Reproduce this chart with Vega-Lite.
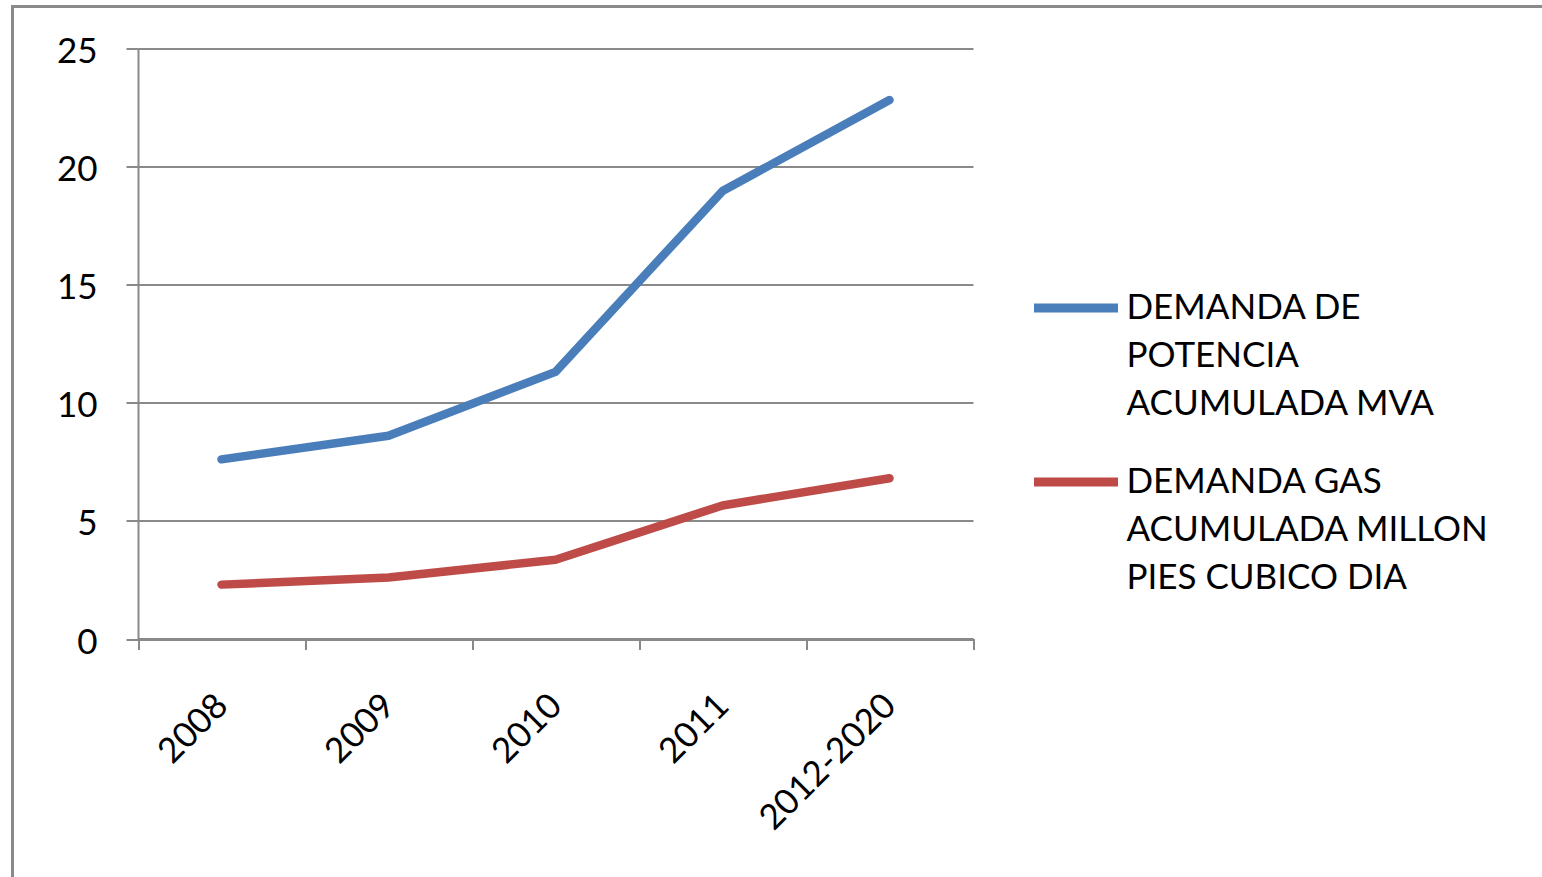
{
  "$schema": "https://vega.github.io/schema/vega-lite/v6.json",
  "width": 1533,
  "height": 874,
  "autosize": {"type": "none"},
  "padding": {"left": 12.5, "top": 6.5, "right": 0, "bottom": 0},
  "background": "white",
  "data": {
    "values": [
      {"periodo": "2008", "serie": "DEMANDA DE POTENCIA ACUMULADA MVA", "valor": 7.6},
      {"periodo": "2009", "serie": "DEMANDA DE POTENCIA ACUMULADA MVA", "valor": 8.6},
      {"periodo": "2010", "serie": "DEMANDA DE POTENCIA ACUMULADA MVA", "valor": 11.3},
      {"periodo": "2011", "serie": "DEMANDA DE POTENCIA ACUMULADA MVA", "valor": 18.95},
      {"periodo": "2012-2020", "serie": "DEMANDA DE POTENCIA ACUMULADA MVA", "valor": 22.8},
      {"periodo": "2008", "serie": "DEMANDA GAS ACUMULADA MILLON PIES CUBICO DIA", "valor": 2.3},
      {"periodo": "2009", "serie": "DEMANDA GAS ACUMULADA MILLON PIES CUBICO DIA", "valor": 2.6},
      {"periodo": "2010", "serie": "DEMANDA GAS ACUMULADA MILLON PIES CUBICO DIA", "valor": 3.35},
      {"periodo": "2011", "serie": "DEMANDA GAS ACUMULADA MILLON PIES CUBICO DIA", "valor": 5.65},
      {"periodo": "2012-2020", "serie": "DEMANDA GAS ACUMULADA MILLON PIES CUBICO DIA", "valor": 6.8}
    ]
  },
  "mark": {"type": "line", "strokeWidth": 8.5, "strokeCap": "round", "strokeJoin": "round"},
  "encoding": {
    "x": {
      "field": "periodo",
      "type": "ordinal",
      "sort": null,
      "scale": {"range": [125.5, 960.5], "paddingInner": 0, "paddingOuter": 0},
      "axis": {
        "title": null,
        "offset": -242,
        "labelAngle": -45,
        "labelAlign": "right",
        "labelBaseline": "middle",
        "labelPadding": 50,
        "tickBand": "extent",
        "tickSize": 11,
        "grid": false
      }
    },
    "y": {
      "field": "valor",
      "type": "quantitative",
      "scale": {"domain": [0, 25], "range": [632.5, 41.5], "nice": false},
      "axis": {
        "title": null,
        "offset": -125.5,
        "values": [0, 5, 10, 15, 20, 25],
        "tickSize": 12,
        "labelPadding": 29,
        "labelOffset": 3,
        "grid": true
      }
    },
    "color": {
      "field": "serie",
      "type": "nominal",
      "scale": {
        "domain": ["DEMANDA DE POTENCIA ACUMULADA MVA", "DEMANDA GAS ACUMULADA MILLON PIES CUBICO DIA"],
        "range": ["#4a7ebb", "#be4b48"]
      },
      "legend": {
        "title": null,
        "orient": "none",
        "legendX": 1017,
        "legendY": 255,
        "padding": 0,
        "symbolType": "stroke",
        "symbolSize": 7056,
        "symbolStrokeWidth": 9,
        "labelOffset": 4,
        "rowPadding": 13,
        "labelBaseline": "middle",
        "labelLimit": 600,
        "labelExpr": "datum.label == 'DEMANDA DE POTENCIA ACUMULADA MVA' ? ['DEMANDA DE', 'POTENCIA', 'ACUMULADA MVA'] : ['DEMANDA GAS', 'ACUMULADA MILLON', 'PIES CUBICO  DIA']"
      }
    }
  },
  "config": {
    "font": "Lato",
    "view": {"stroke": "#8a8a8a", "strokeWidth": 3},
    "axis": {
      "labelFont": "Lato",
      "labelFontSize": 35,
      "labelColor": "#000000",
      "domainColor": "#898989",
      "domainWidth": 2,
      "tickColor": "#898989",
      "tickWidth": 2,
      "gridColor": "#898989",
      "gridWidth": 2,
      "gridOpacity": 1
    },
    "legend": {
      "labelFont": "Lato",
      "labelFontSize": 35,
      "labelColor": "#000000"
    },
    "style": {"guide-label": {"lineHeight": 48}}
  }
}
